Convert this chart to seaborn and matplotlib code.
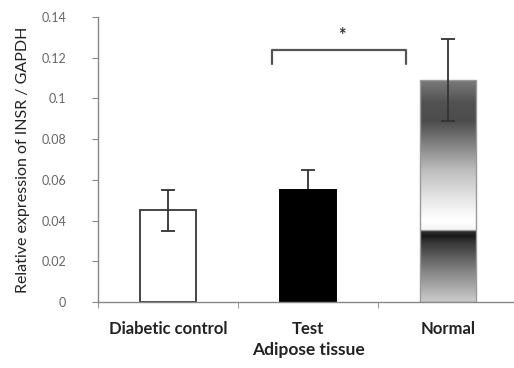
import numpy as np
import matplotlib
matplotlib.use('Agg')
import matplotlib.pyplot as plt
import seaborn as sns
import pandas as pd

# 数据
groups = ['Diabetic control', 'Test', 'Normal']
means = [0.045, 0.055, 0.109]
errors = [0.010, 0.010, 0.020]

df = pd.DataFrame({'group': groups, 'value': means})

sns.set_style('white')
plt.rcParams['font.family'] = ['Lato', 'DejaVu Sans']

fig = plt.figure(figsize=(5.14, 3.68), dpi=100)
ax = fig.add_axes([98 / 514, 66 / 368, 420 / 514, 285 / 368])

sns.barplot(data=df, x='group', y='value', ax=ax, width=0.4, errorbar=None,
            palette=['white', 'black', 'white'], hue='group', legend=False,
            edgecolor='#444444', linewidth=1.4, zorder=2)

patches = ax.patches
patches[1].set_edgecolor('black')
patches[2].set_edgecolor('#9a9a9a')
patches[2].set_linewidth(1.0)

# Normal 柱子的渐变填充
p = patches[2]
x0, w, h = p.get_x(), p.get_width(), p.get_height()
stops_y = np.array([0.0, 0.016, 0.029, 0.0325, 0.0345, 0.0355, 0.040, 0.049, 0.065, 0.089, 0.098, 0.109])
stops_g = np.array([0.80, 0.50, 0.22, 0.10, 0.18, 0.96, 1.00, 0.92, 0.74, 0.30, 0.32, 0.48])
yy = np.linspace(0, h, 400)
grad = np.interp(yy, stops_y, stops_g)[:, None]
im = ax.imshow(grad, extent=[x0, x0 + w, 0, h], origin='lower', aspect='auto',
               cmap='gray', vmin=0, vmax=1, zorder=1.9, interpolation='bilinear')
im.set_clip_path(p)
p.set_facecolor('none')

# 误差线（Test 柱子的下半部分被黑色柱子盖住）
for i, (m, e) in enumerate(zip(means, errors)):
    ax.errorbar(i, m, yerr=e, fmt='none', ecolor='#333333',
                elinewidth=1.3, capsize=5, capthick=1.3, zorder=1.5 if i == 1 else 3)

ax.set_xlim(-0.5, 2.5)
ax.set_ylim(0, 0.14)
ax.set_yticks(np.arange(0, 0.141, 0.02))
ax.set_yticklabels(['0', '0.02', '0.04', '0.06', '0.08', '0.1', '0.12', '0.14'],
                   color='#666666', fontsize=9)
ax.set_xticks(range(len(groups)))
ax.set_xticklabels(groups, fontsize=12, fontweight='bold', color='#222222')
ax.set_xticks([-0.5, 0.5, 1.5, 2.5], minor=True)
ax.tick_params(axis='x', which='major', length=0, pad=14)
ax.tick_params(axis='x', which='minor', length=4, color='#888888', direction='out', bottom=True)
ax.tick_params(axis='y', length=4, color='#888888', direction='out', left=True, pad=19)

for s in ['top', 'right']:
    ax.spines[s].set_visible(False)
for s in ['left', 'bottom']:
    ax.spines[s].set_color('#888888')
    ax.spines[s].set_linewidth(1.0)

ax.set_xlabel('Adipose tissue', fontsize=12.5, fontweight='bold', color='#222222', labelpad=3)
ax.set_ylabel('Relative expression of INSR / GAPDH', fontsize=11.5, color='#222222', labelpad=8)

# 显著性标注
bx = [0.74, 0.74, 1.70, 1.70]
by = [0.117, 0.1238, 0.1238, 0.117]
ax.plot(bx, by, color='#555555', lw=1.6, solid_joinstyle='round', clip_on=False)
ax.text(1.24, 0.131, '*', ha='center', va='center', fontsize=13, fontweight='bold', color='#333333')

fig.savefig('out.png', dpi=100)
